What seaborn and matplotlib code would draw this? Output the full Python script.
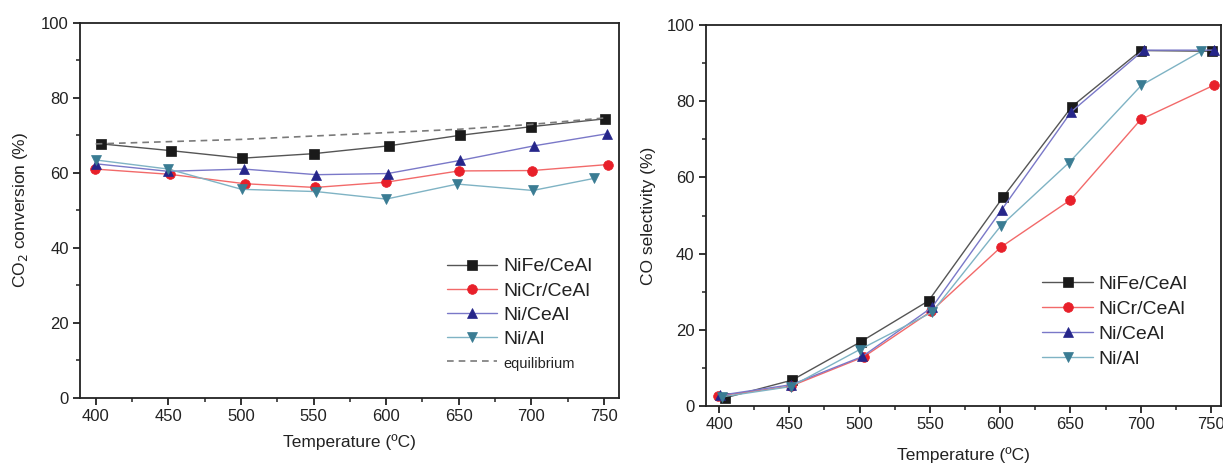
import numpy as np
import pandas as pd
import matplotlib
matplotlib.use("Agg")
import matplotlib.pyplot as plt
from matplotlib.ticker import MultipleLocator
import seaborn as sns

# ---- data: CO2 conversion (left) ----
conv_temp_nife = [404, 452, 501, 550, 602, 651, 700, 751]
conv_nife = [67.7, 65.9, 63.9, 65.1, 67.2, 70.0, 72.3, 74.4]
conv_temp_nicr = [399.5, 451, 502.5, 551, 600, 650, 700.5, 752.5]
conv_nicr = [61.0, 59.6, 57.1, 56.1, 57.5, 60.5, 60.6, 62.2]
conv_temp_ni = [400, 450, 502, 552, 601, 651, 702, 752]
conv_ni = [62.4, 60.4, 61.0, 59.5, 59.8, 63.3, 67.2, 70.4]
conv_temp_nial = [400.5, 450, 500.5, 552, 600, 649, 701, 743]
conv_nial = [63.4, 61.0, 55.6, 55.0, 53.0, 57.0, 55.3, 58.5]
eq_temp = [400, 450, 500, 550, 600, 650, 700, 750]
eq_conv = [67.7, 68.3, 68.9, 69.8, 70.7, 71.6, 72.9, 74.6]

# ---- data: CO selectivity (right) ----
sel_temp_nife = [404, 452, 501, 549, 602, 651, 700, 751]
sel_nife = [2.1, 6.8, 16.9, 27.6, 54.8, 78.6, 93.3, 93.1]
sel_temp_nicr = [399, 451, 503, 551, 600.5, 650, 700, 752]
sel_nicr = [2.6, 5.2, 12.9, 24.9, 41.7, 54.1, 75.2, 84.2]
sel_temp_ni = [400.5, 451.5, 502, 551.5, 601, 650.5, 702, 752]
sel_ni = [2.8, 5.6, 13.0, 25.9, 51.5, 77.2, 93.4, 93.4]
sel_temp_nial = [402, 451, 500, 551.5, 600.5, 649, 700.5, 743]
sel_nial = [2.4, 5.1, 14.8, 24.6, 47.3, 63.9, 84.2, 93.1]

labels = ["NiFe/CeAl", "NiCr/CeAl", "Ni/CeAl", "Ni/Al"]

sns.set_style("ticks")
plt.rcParams['font.family'] = ['Liberation Sans', 'DejaVu Sans']
plt.rcParams['axes.linewidth'] = 1.3
plt.rcParams['axes.edgecolor'] = '#222222'
plt.rcParams['xtick.color'] = '#222222'
plt.rcParams['ytick.color'] = '#222222'
plt.rcParams['xtick.direction'] = 'out'
plt.rcParams['ytick.direction'] = 'out'

styles = [
    dict(marker='s', color='#555555', mfc='#1a1a1a', mec='#1a1a1a', ms=6.5),
    dict(marker='o', color='#f26a6a', mfc='#e8202a', mec='#e8202a', ms=7),
    dict(marker='^', color='#7a78c8', mfc='#26268a', mec='#26268a', ms=7.5),
    dict(marker='v', color='#7fb3c4', mfc='#3a7c93', mec='#3a7c93', ms=7.5),
]

fig = plt.figure(figsize=(12.23, 4.63), dpi=100)
ax1 = fig.add_axes([0.0654, 0.1404, 0.4407, 0.8106])
ax2 = fig.add_axes([0.577, 0.1231, 0.4213, 0.8229])

def draw(ax, xs, ys):
    for x, y, lab, st in zip(xs, ys, labels, styles):
        df = pd.DataFrame({"T": x, "v": y})
        sns.lineplot(data=df, x="T", y="v", ax=ax, sort=False, label=lab,
                     color=st['color'], marker=st['marker'], markersize=st['ms'],
                     markerfacecolor=st['mfc'], markeredgecolor=st['mec'],
                     markeredgewidth=0.5, linewidth=1.0)

draw(ax1, [conv_temp_nife, conv_temp_nicr, conv_temp_ni, conv_temp_nial],
     [conv_nife, conv_nicr, conv_ni, conv_nial])
eq_df = pd.DataFrame({"T": eq_temp, "v": eq_conv})
sns.lineplot(data=eq_df, x="T", y="v", ax=ax1, sort=False, color='#7a7a7a',
             linestyle=(0, (4, 3)), linewidth=1.2, label="equilibrium")

draw(ax2, [sel_temp_nife, sel_temp_nicr, sel_temp_ni, sel_temp_nial],
     [sel_nife, sel_nicr, sel_ni, sel_nial])

for ax, xl in ((ax1, (389.2, 760.3)), (ax2, (390.5, 757))):
    ax.set_xlim(*xl)
    ax.set_ylim(0, 100)
    ax.xaxis.set_major_locator(MultipleLocator(50))
    ax.xaxis.set_minor_locator(MultipleLocator(25))
    ax.yaxis.set_major_locator(MultipleLocator(20))
    ax.yaxis.set_minor_locator(MultipleLocator(10))
    ax.tick_params(which='major', length=5, width=1.3, labelsize=12, pad=3,
                   labelcolor='#222222')
    ax.tick_params(which='minor', length=3, width=1.1)
    ax.tick_params(top=False, right=False, which='both')
    for s in ax.spines.values():
        s.set_visible(True)
    ax.set_xlabel("Temperature (ºC)", fontsize=12.5, color='#222222')

ax1.set_ylabel("CO$_2$ conversion (%)", fontsize=12.5, color='#222222', labelpad=8)
ax2.set_ylabel("CO selectivity (%)", fontsize=12.5, color='#222222', labelpad=8)
ax1.xaxis.set_label_coords(0.5, -0.095)
ax2.xaxis.set_label_coords(0.5, -0.108)

leg1 = ax1.legend(loc='lower right', bbox_to_anchor=(0.975, 0.035), frameon=False,
                  fontsize=14, handlelength=2.6, handletextpad=0.3, labelspacing=0.34,
                  borderpad=0.2)
for t in leg1.get_texts():
    if t.get_text() == "equilibrium":
        t.set_fontsize(10.5)
    t.set_color('#222222')

leg2 = ax2.legend(loc='lower right', bbox_to_anchor=(0.962, 0.065), frameon=False,
                  fontsize=14, handlelength=2.6, handletextpad=0.3, labelspacing=0.38,
                  borderpad=0.2)
for t in leg2.get_texts():
    t.set_color('#222222')

fig.savefig("out.png", dpi=100)
